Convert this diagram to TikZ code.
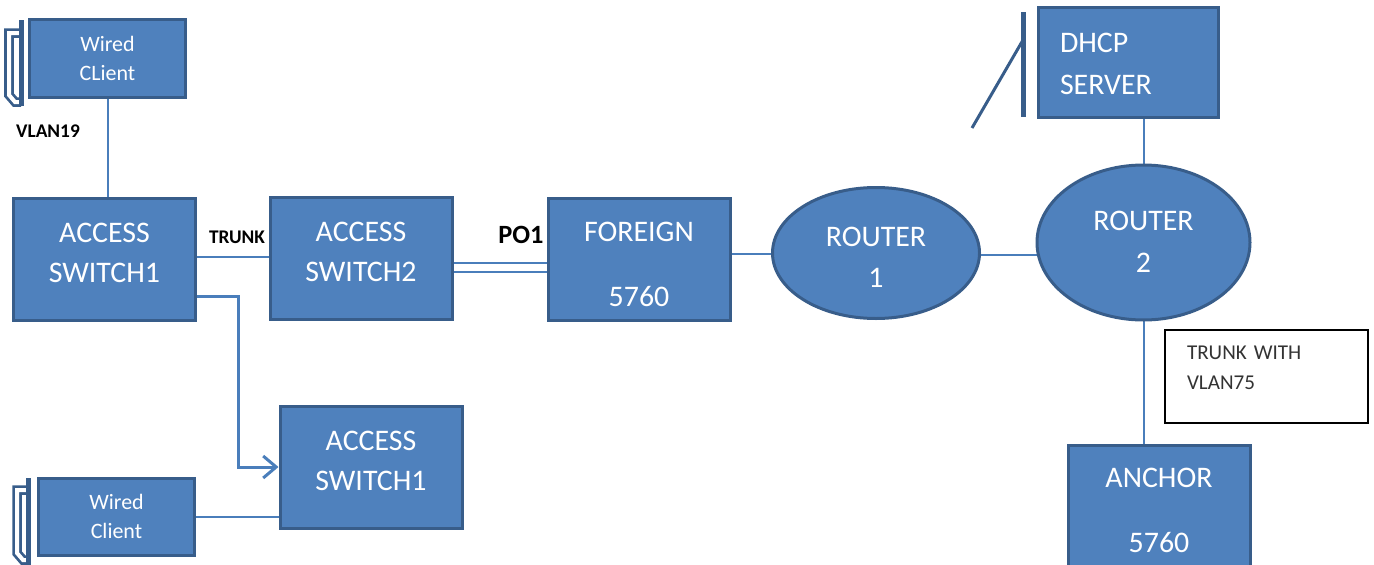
\documentclass[tikz,border=0pt]{standalone}
\usepackage{fontspec}
\setmainfont{Carlito}
\usetikzlibrary{shapes.geometric,arrows.meta,backgrounds}
\definecolor{boxblue}{HTML}{4F81BD}
\definecolor{edgeblue}{HTML}{385D8A}
\definecolor{wireblue}{HTML}{4A7EBB}
\tikzset{
  netbox/.style={draw=edgeblue,line width=0.6mm,fill=boxblue,text=white,align=center,
    minimum width=36.4mm,minimum height=24.4mm,inner sep=0pt},
  boxtext/.style={text=white,align=center,font=\fontsize{17}{20}\selectfont,inner sep=0pt},
  clientbox/.style={netbox,font=\fontsize{12.5}{15}\selectfont,minimum width=31.2mm,minimum height=15.4mm},
  router/.style={netbox,ellipse},
  notebox/.style={draw=black,line width=0.4mm,fill=white,minimum width=40.6mm,minimum height=18.6mm},
  notetext/.style={text=black!80,align=left,font=\fontsize{12}{14}\selectfont,text width=31.8mm,inner sep=0pt},
  tag/.style={font=\fontsize{11}{13}\selectfont\bfseries,text=black,inner sep=0pt},
  wire/.style={draw=wireblue,line width=0.4mm},
  bracket/.style={draw=edgeblue,line width=0.55mm,double=white,double distance=0.8mm}
}
\begin{document}
\begin{tikzpicture}[x=0.2mm,y=-0.2mm]
    \useasboundingbox (0,0) rectangle (1374,565);
    % Draw clients and switches
    \node[clientbox] (wc1) at (107.5,58.5) {Wired\\[1.5pt]CLient};
    \node[netbox,label={[boxtext,yshift=1.2mm]center:ACCESS\\[2.8pt]SWITCH1}] (as1) at (104.5,259) {};
    \node[netbox,label={[boxtext,yshift=1.2mm]center:ACCESS\\[2.8pt]SWITCH2}] (as2) at (361,258) {};
    \node[netbox,label={[boxtext,yshift=-1.1mm]center:FOREIGN\\[17pt]5760}] (frn) at (639,259) {};
    \node[netbox,label={[boxtext,yshift=1.3mm]center:ACCESS\\[2.8pt]SWITCH1}] (as1b) at (371,467) {};
    \node[clientbox] (wc2) at (116.5,516.5) {Wired\\[1.5pt]Client};
    % Draw routers
    \node[router,minimum width=41.4mm,minimum height=26.2mm,
        label={[boxtext,yshift=-0.9mm]center:ROUTER\\[3.6pt]1}] (r1) at (876,253) {};
    \node[router,minimum width=42.6mm,minimum height=31mm,
        label={[boxtext,yshift=0.2mm]center:ROUTER\\[3.9pt]2}] (r2) at (1143.5,242.5) {};
    % Draw server and anchor
    \node[netbox,minimum width=36mm,minimum height=21.8mm,
        label={[boxtext,align=left,text width=27.2mm,yshift=-0.3mm]center:DHCP\\[3.9pt]SERVER}]
        (dhcp) at (1128,62.5) {};
    \node[netbox,label={[boxtext,yshift=-0.8mm]center:ANCHOR\\[17pt]5760}] (anc) at (1159,506) {};
    % Draw note and labels
    \node[notebox,label={[notetext,yshift=1.7mm]center:TRUNK WITH\\[3pt]VLAN75}] (note) at (1266.5,376.5) {};
    \node[tag] (vlan) at (48,131) {VLAN19};
    \node[tag] (trunk) at (237,237) {TRUNK};
    \node[tag,font=\fontsize{15}{18}\selectfont\bfseries] (po) at (521,235) {PO1};
    % Draw links
    \begin{scope}[on background layer]
        \draw[wire] (wc1.south) -- (wc1.south |- as1.north);
        \draw[wire] ([yshift=0.5mm]as1.east) -- ([yshift=0.5mm]as1.east -| as2.west);
        \draw[wire] ([yshift=-1mm]as2.east) -- ([yshift=-1mm]as2.east -| frn.west);
        \draw[wire] ([yshift=-2.8mm]as2.east) -- ([yshift=-2.8mm]as2.east -| frn.west);
        \draw[wire] ([yshift=1mm]frn.east) -- ([yshift=1mm]frn.east -| r1.center);
        \draw[wire] ([yshift=-0.4mm]r1.east) -- ([yshift=-0.4mm]r1.east -| r2.center);
        \draw[wire] (r2.north |- dhcp.south) -- (r2.center);
        \draw[wire] (r2.center) -- (r2.south |- anc.north);
        \draw[wire] (wc2.east) -- (wc2.east -| as1b.west);
    \end{scope}
    % Draw arrow to second switch
    \coordinate (bend) at (238,380);
    \draw[wire,line width=0.6mm,-{Straight Barb[length=2.6mm,width=4.4mm]}]
        ([yshift=-7.4mm]as1.east) -| (bend) |- (as1b.west);
    % Draw client brackets
    \draw[bracket] (21,33) -- (9,33) -- (9,95) -- (15,102) -- (21,102);
    \draw[edgeblue,line width=1mm] (21,20) -- (21,106);
    \draw[bracket] (28,490) -- (17,490) -- (17,553) -- (23,560) -- (28,560);
    \draw[edgeblue,line width=1mm] (28,478) -- (28,565);
    % Draw server bar
    \draw[edgeblue,line width=1mm] (1023,12) -- (1023,117);
    \draw[edgeblue,line width=0.6mm] (1023,40) -- (972,128);
\end{tikzpicture}
\end{document}
